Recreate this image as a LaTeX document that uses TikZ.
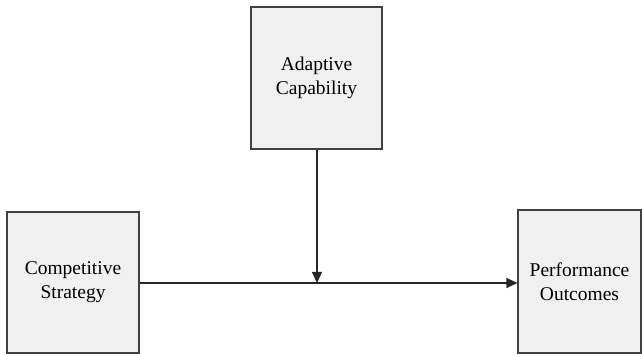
\documentclass[tikz,border=0pt]{standalone}
\usepackage{fontspec}
\setmainfont{Liberation Serif}
\usetikzlibrary{arrows.meta}
\definecolor{boxfill}{HTML}{F0F0F0}
\definecolor{boxline}{HTML}{404040}
\tikzset{
  varbox/.style={draw=boxline, line width=1.1pt, fill=boxfill, minimum width=#1, inner sep=0pt,
    align=center, font=\fontsize{19.5pt}{24pt}\selectfont},
  link/.style={draw=black!85, line width=1.1pt, -{Triangle[length=11pt,width=10pt]}}
}
\begin{document}
\begin{tikzpicture}[x=1pt,y=1pt]
\useasboundingbox (0,0) rectangle (642,355);
\node[varbox=131pt, minimum height=142pt] (adapt) at (316.5,277) {Adaptive\\Capability};
\node[varbox=132pt, minimum height=141pt] (comp) at (73,72.5) {Competitive\\Strategy};
\node[varbox=123pt, minimum height=143pt] (perf) at (579.5,73.5) {Performance\\Outcomes};
\coordinate (meet) at (317,72);
\draw[link] (comp.east |- meet) -- (perf.west |- meet);
\draw[link] (adapt.south -| meet) -- (meet);
\end{tikzpicture}
\end{document}
